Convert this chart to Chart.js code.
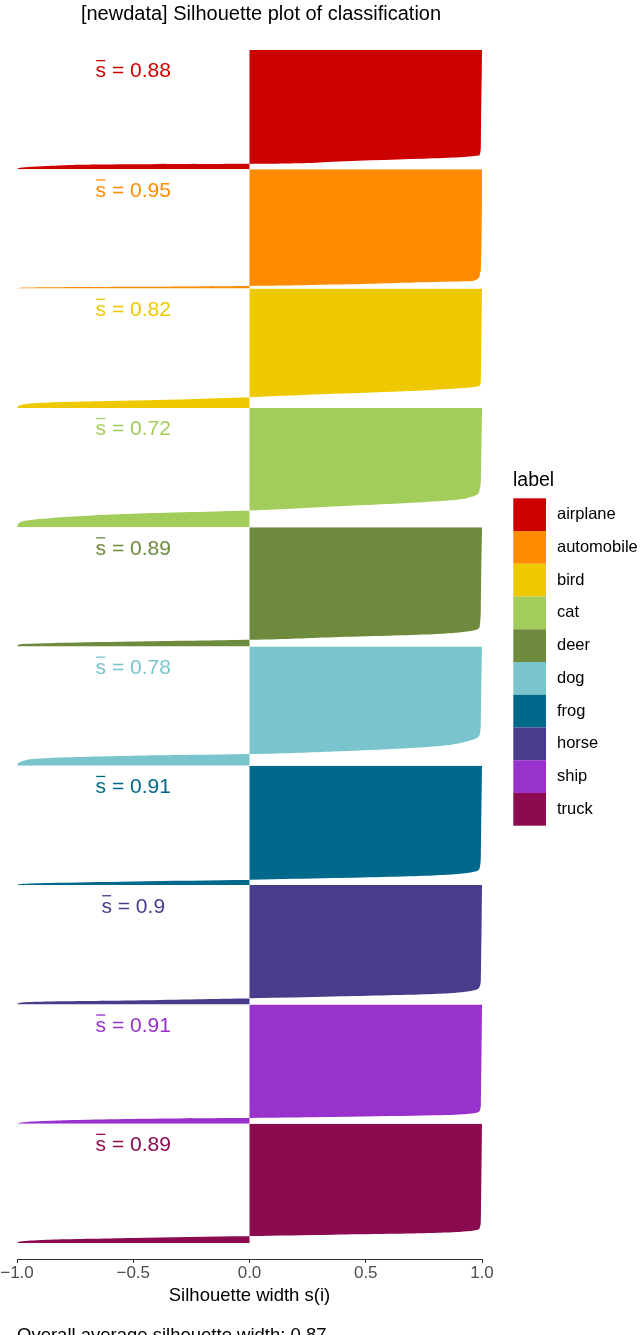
<!DOCTYPE html>
<html>
<head>
<meta charset="utf-8">
<title>Silhouette plot</title>
<script src="https://cdn.jsdelivr.net/npm/chart.js@4.4.1/dist/chart.umd.min.js"></script>
<style>
  html, body { margin: 0; padding: 0; background: #ffffff; }
  canvas { display: block; }
</style>
</head>
<body>
<canvas id="silhouetteChart" width="640" height="1335"></canvas>
<script>
const categories = ['airplane', 'automobile', 'bird', 'cat', 'deer', 'dog', 'frog', 'horse', 'ship', 'truck'];
const meanWidths = ['0.88', '0.95', '0.82', '0.72', '0.89', '0.78', '0.91', '0.9', '0.91', '0.89'];
const overallMean = '0.87';
const clusterSize = 1000;
const xTicks = [-1, -0.5, 0, 0.5, 1];
const xTickLabels = ['\u22121.0', '\u22120.5', '0.0', '0.5', '1.0'];

// observation rank inside each cluster (sorted, widest first) and the silhouette width s(i) there
const rankAirplane = [0, 796, 880, 894, 908, 936, 954, 958, 972, 986, 1000];
const silAirplane = [1.0, 0.995, 0.99, 0.935, 0.79, 0.36, 0.0, -0.5, -0.86, -0.98, -1.0];
const rankAutomobile = [0, 844, 886, 936, 944, 966, 978, 985, 989, 992, 1000];
const silAutomobile = [1.0, 0.995, 0.99, 0.96, 0.79, 0.36, 0.0, -0.5, -0.86, -0.98, -1.0];
const rankBird = [0, 765, 815, 832, 849, 882, 910, 939, 955, 975, 1000];
const silBird = [1.0, 0.995, 0.99, 0.935, 0.79, 0.36, 0.0, -0.5, -0.86, -0.98, -1.0];
const rankCat = [0, 600, 687, 757, 785, 827, 861, 888, 924, 953, 1000];
const silCat = [1.0, 0.995, 0.99, 0.935, 0.79, 0.36, 0.0, -0.5, -0.86, -0.98, -1.0];
const rankDeer = [0, 651, 833, 875, 897, 922, 944, 959, 972, 980, 1000];
const silDeer = [1.0, 0.995, 0.99, 0.935, 0.79, 0.36, 0.0, -0.5, -0.86, -0.98, -1.0];
const rankDog = [0, 614, 740, 796, 838, 880, 902, 916, 935, 964, 1000];
const silDog = [1.0, 0.995, 0.99, 0.935, 0.79, 0.36, 0.0, -0.5, -0.86, -0.98, -1.0];
const rankFrog = [0, 746, 857, 899, 919, 941, 955, 970, 983, 991, 1000];
const silFrog = [1.0, 0.995, 0.99, 0.935, 0.79, 0.36, 0.0, -0.5, -0.86, -0.98, -1.0];
const rankHorse = [0, 794, 850, 892, 913, 934, 949, 967, 975, 984, 1000];
const silHorse = [1.0, 0.995, 0.99, 0.935, 0.79, 0.36, 0.0, -0.5, -0.86, -0.98, -1.0];
const rankShip = [0, 841, 891, 918, 930, 944, 952, 953, 960, 975, 989, 1000];
const silShip = [1.0, 0.995, 0.99, 0.935, 0.79, 0.36, 0.0, -0.07, -0.5, -0.86, -0.98, -1.0];
const rankTruck = [0, 804, 874, 902, 916, 930, 941, 958, 972, 986, 1000];
const silTruck = [1.0, 0.995, 0.99, 0.935, 0.79, 0.36, 0.0, -0.5, -0.86, -0.98, -1.0];

const ranks = [rankAirplane, rankAutomobile, rankBird, rankCat, rankDeer, rankDog, rankFrog, rankHorse, rankShip, rankTruck];
const widths = [silAirplane, silAutomobile, silBird, silCat, silDeer, silDog, silFrog, silHorse, silShip, silTruck];

const colors = ['#CD0000', '#FF8C00', '#EEC900', '#A2CD5A', '#6E8B3D', '#7AC5CD', '#00688B', '#483D8B', '#9932CC', '#8B0A50'];
const fontFamily = '"Liberation Sans", Arial, Helvetica, sans-serif';

Chart.defaults.font.family = fontFamily;

const datasets = categories.map((name, k) => ({
  label: name,
  data: ranks[k].map((r, i) => ({ x: widths[k][i], y: k * clusterSize + r })),
  backgroundColor: colors[k],
  borderColor: 'rgba(0,0,0,0)',
  borderWidth: 0,
  pointRadius: 0,
  pointHoverRadius: 0,
  cubicInterpolationMode: 'monotone',
  fill: 'origin'
}));

// title, mean labels, legend and caption
const decorations = {
  id: 'decorations',
  afterDraw(chart) {
    const ctx = chart.ctx;
    const xScale = chart.scales.x;
    const yScale = chart.scales.y;
    ctx.save();

    ctx.fillStyle = '#000000';
    ctx.font = '20px ' + fontFamily;
    ctx.textAlign = 'center';
    ctx.textBaseline = 'alphabetic';
    ctx.fillText('[newdata] Silhouette plot of classification', 261, 19.5);

    // mean silhouette width of each cluster
    ctx.font = '21px ' + fontFamily;
    ctx.textAlign = 'left';
    categories.forEach((name, k) => {
      const cx = xScale.getPixelForValue(-0.5);
      const y = yScale.getPixelForValue(k * clusterSize) + 27.5;
      const text = 's = ' + meanWidths[k];
      const w = ctx.measureText(text).width;
      const x0 = cx - w / 2;
      const sw = ctx.measureText('s').width;
      ctx.fillStyle = colors[k];
      ctx.fillText(text, x0, y);
      ctx.fillRect(x0 + 0.6, y - 17.5, sw - 1.4, 1.3);
    });

    // legend
    ctx.fillStyle = '#000000';
    ctx.font = '19.5px ' + fontFamily;
    ctx.fillText('label', 513, 486);
    const boxH = 32.74;
    ctx.font = '16.5px ' + fontFamily;
    ctx.textBaseline = 'middle';
    categories.forEach((name, k) => {
      const top = 498.3 + k * boxH;
      ctx.fillStyle = colors[k];
      ctx.fillRect(513.3, top, 32.7, boxH);
      ctx.fillStyle = '#000000';
      ctx.fillText(name, 557, top + boxH / 2);
    });

    // caption
    ctx.textBaseline = 'alphabetic';
    ctx.font = '18.5px ' + fontFamily;
    ctx.fillText('Overall average silhouette width: ' + overallMean, 17, 1341);

    ctx.restore();
  }
};

const ctx = document.getElementById('silhouetteChart').getContext('2d');
new Chart(ctx, {
  type: 'line',
  data: { datasets: datasets },
  plugins: [decorations],
  options: {
    indexAxis: 'y',
    responsive: false,
    animation: false,
    events: [],
    layout: { padding: { left: 17, right: 158, top: 34, bottom: 28.4 } },
    plugins: {
      legend: { display: false },
      tooltip: { enabled: false },
      title: { display: false }
    },
    scales: {
      x: {
        type: 'linear',
        position: 'bottom',
        min: -1,
        max: 1,
        afterBuildTicks: (scale) => {
          scale.ticks = xTicks.map(v => ({ value: v }));
        },
        ticks: {
          autoSkip: false,
          maxRotation: 0,
          padding: 0,
          color: '#4D4D4D',
          font: { size: 17 },
          callback: (value) => xTickLabels[xTicks.indexOf(value)]
        },
        grid: {
          drawOnChartArea: false,
          drawTicks: true,
          tickLength: 4,
          color: '#333333',
          lineWidth: 1
        },
        border: { display: true, color: '#333333', width: 1 },
        title: {
          display: true,
          text: 'Silhouette width s(i)',
          color: '#000000',
          font: { size: 18.5 },
          padding: { top: 1, bottom: 0 }
        }
      },
      y: {
        type: 'linear',
        display: false,
        reverse: true,
        min: -134,
        max: 10134
      }
    }
  }
});
</script>
</body>
</html>
